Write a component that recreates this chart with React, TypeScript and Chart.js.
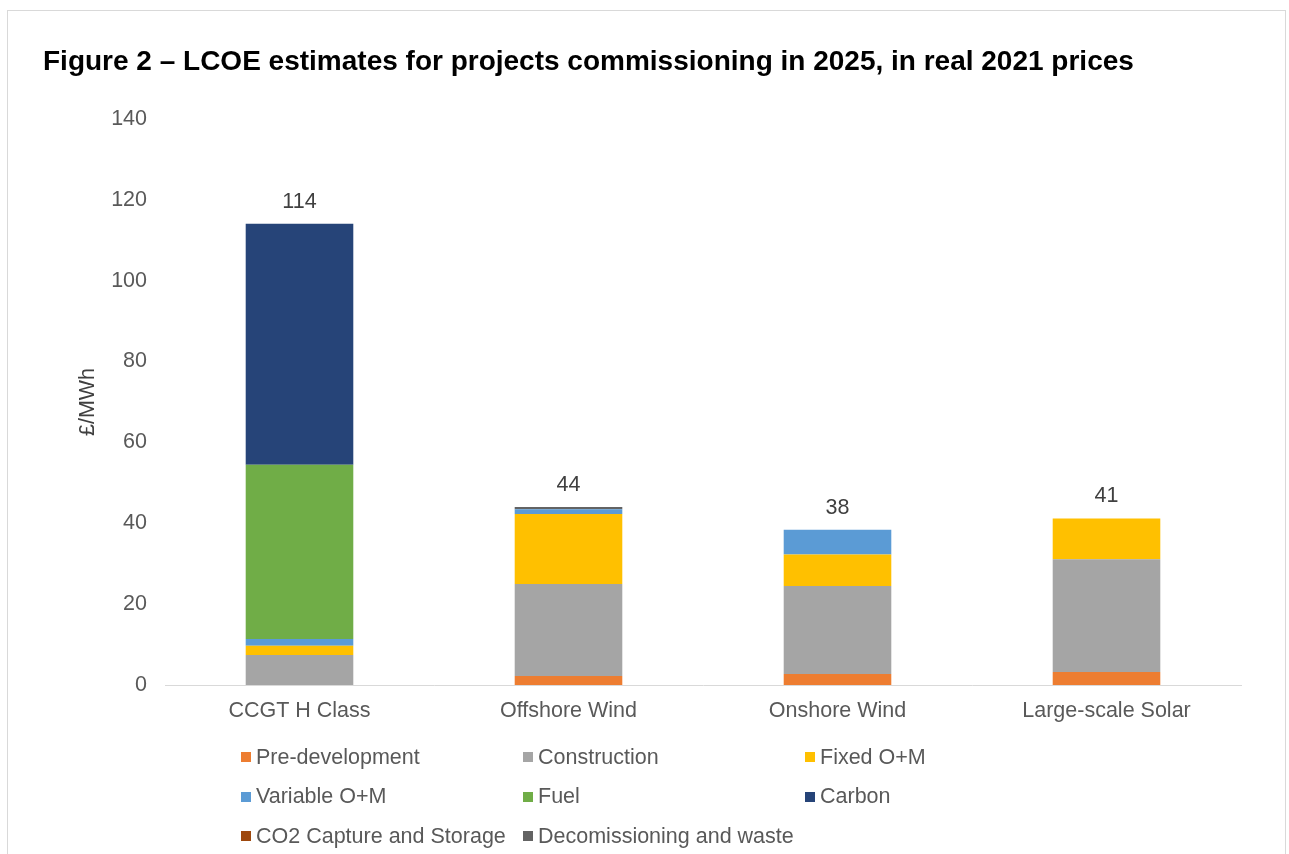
import React, { useEffect, useRef } from "react";
import { Chart, registerables } from "chart.js";

Chart.register(...registerables);

const categories = ["CCGT H Class", "Offshore Wind", "Onshore Wind", "Large-scale Solar"];

const seriesNames = [
  "Pre-development",
  "Construction",
  "Fixed O+M",
  "Variable O+M",
  "Fuel",
  "Carbon",
  "CO2 Capture and Storage",
  "Decomissioning and waste",
];

const preDevelopment = [0, 2.2, 2.7, 3.2];
const construction = [7.4, 22.8, 21.8, 27.9];
const fixedOM = [2.3, 17.3, 7.8, 10.1];
const variableOM = [1.7, 1.2, 6.1, 0];
const fuel = [43.1, 0, 0, 0];
const carbon = [59.6, 0, 0, 0];
const co2Capture = [0, 0, 0, 0];
const decommissioning = [0, 0.5, 0, 0];

const yTicks = [0, 20, 40, 60, 80, 100, 120, 140];

const seriesValues = [
  preDevelopment,
  construction,
  fixedOM,
  variableOM,
  fuel,
  carbon,
  co2Capture,
  decommissioning,
];

const seriesColors = [
  "#ED7D31",
  "#A5A5A5",
  "#FFC000",
  "#5B9BD5",
  "#70AD47",
  "#264478",
  "#9E480E",
  "#636363",
];

const FONT = "'Liberation Sans', Arial, Helvetica, sans-serif";
const TXT = 21.5;

const totalsPlugin = {
  id: "totalsLabels",
  afterDatasetsDraw(chart: any) {
    const ctx = chart.ctx;
    const xs = chart.scales.x;
    const ys = chart.scales.y;
    ctx.save();
    ctx.font = `${TXT}px ${FONT}`;
    ctx.fillStyle = "#404040";
    ctx.textAlign = "center";
    ctx.textBaseline = "middle";
    categories.forEach((_, i) => {
      let total = 0;
      chart.data.datasets.forEach((ds: any) => {
        total += Number(ds.data[i]) || 0;
      });
      ctx.fillText(String(Math.round(total)), xs.getPixelForValue(i), ys.getPixelForValue(total) - 22);
    });
    ctx.restore();
  },
};

export default function App() {
  const canvasRef = useRef<HTMLCanvasElement | null>(null);

  useEffect(() => {
    if (!canvasRef.current) return;
    Chart.defaults.font.family = FONT;
    const chart = new Chart(canvasRef.current, {
      type: "bar",
      data: {
        labels: categories,
        datasets: seriesNames.map((name, i) => ({
          label: name,
          data: seriesValues[i],
          backgroundColor: seriesColors[i],
          borderWidth: 0,
          categoryPercentage: 1,
          barPercentage: 0.4,
        })),
      },
      options: {
        responsive: false,
        animation: false,
        devicePixelRatio: 1,
        layout: { padding: { top: 20, left: 43, right: 48, bottom: 0 } },
        plugins: {
          legend: { display: false },
          tooltip: { enabled: false },
          title: {
            display: true,
            text: "Figure 2 – LCOE estimates for projects commissioning in 2025, in real 2021 prices",
            align: "start",
            color: "#000000",
            font: { size: 28, weight: "bold", family: FONT, lineHeight: 1.2 },
            padding: { top: 25, bottom: 40.4 },
          },
        },
        scales: {
          x: {
            stacked: true,
            grid: { display: false, drawTicks: false },
            border: { display: true, color: "#D9D9D9", width: 1 },
            ticks: { color: "#595959", font: { size: TXT }, padding: 13 },
            afterFit: (axis: any) => {
              axis.height = 169;
            },
          },
          y: {
            stacked: true,
            min: 0,
            max: 140,
            afterBuildTicks: (axis: any) => {
              axis.ticks = yTicks.map((v) => ({ value: v }));
            },
            grid: { display: false, drawTicks: false },
            border: { display: false },
            ticks: { color: "#595959", font: { size: TXT }, padding: 18 },
            title: {
              display: true,
              text: "£/MWh",
              color: "#404040",
              font: { size: TXT, family: FONT },
              padding: { top: 32, bottom: 0 },
            },
            afterFit: (axis: any) => {
              axis.width = 122;
            },
          },
        },
      },
      plugins: [totalsPlugin],
    } as any);
    return () => chart.destroy();
  }, []);

  return (
    <div
      style={{
        position: "absolute",
        left: 0,
        top: 0,
        width: 1289,
        height: 854,
        overflow: "hidden",
        background: "#ffffff",
        fontFamily: FONT,
      }}
    >
      <div
        style={{
          position: "absolute",
          left: 7,
          top: 10,
          width: 1279,
          height: 870,
          border: "1px solid #D9D9D9",
          boxSizing: "border-box",
        }}
      />
      <canvas
        ref={canvasRef}
        width={1289}
        height={854}
        style={{ position: "absolute", left: 0, top: 0, width: 1289, height: 854 }}
      />
      {seriesNames.map((name, i) => {
        const col = i % 3;
        const row = Math.floor(i / 3);
        return (
          <div
            key={name}
            style={{
              position: "absolute",
              left: 241 + col * 282,
              top: 757 + row * 39.5 - 13,
              height: 26,
              display: "flex",
              alignItems: "center",
              whiteSpace: "nowrap",
              fontSize: TXT,
              color: "#595959",
            }}
          >
            <span
              style={{
                display: "inline-block",
                width: 10,
                height: 10,
                background: seriesColors[i],
                marginRight: 5,
              }}
            />
            <span>{name}</span>
          </div>
        );
      })}
    </div>
  );
}
